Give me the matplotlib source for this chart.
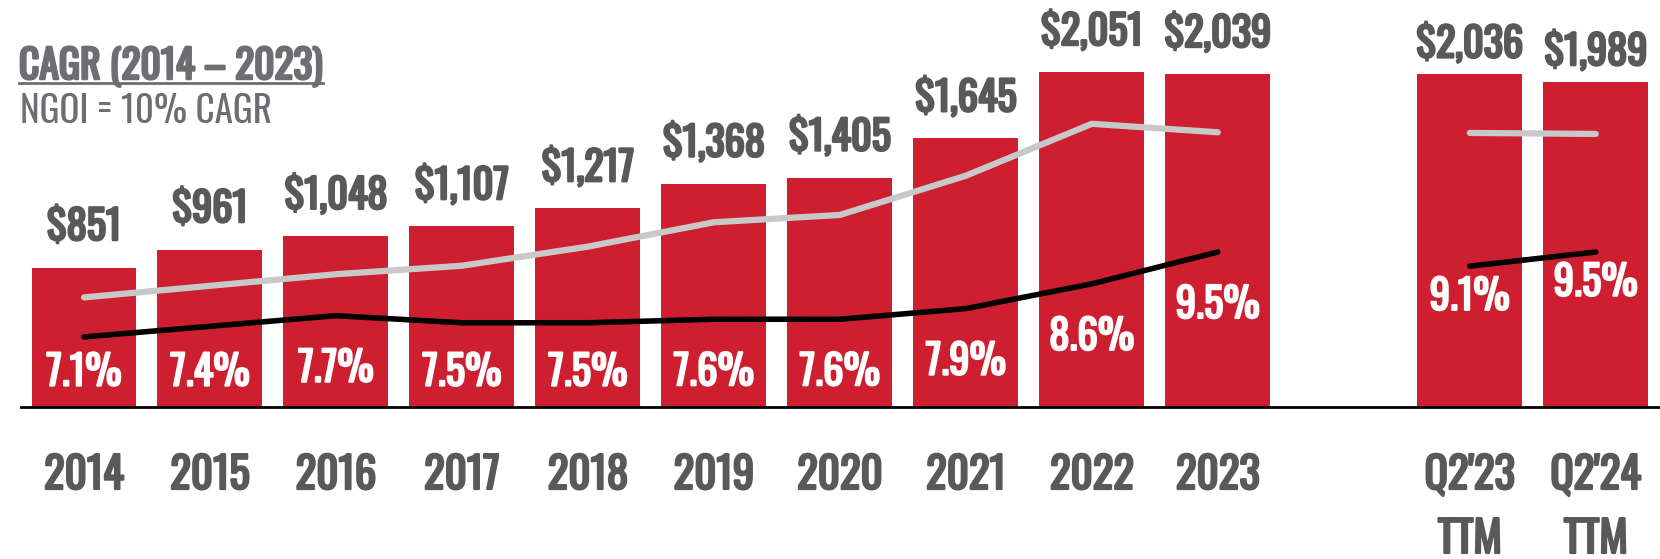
import matplotlib.pyplot as plt
import matplotlib.patheffects as pe
from matplotlib.lines import Line2D

# Oswald is only the variable (regular) cut here, so "bold" is faked with a stroke
plt.rcParams['font.family'] = ['Oswald', 'Barlow Condensed', 'DejaVu Sans']

categories = ['2014', '2015', '2016', '2017', '2018', '2019', '2020', '2021', '2022', '2023',
              "Q2'23\nTTM", "Q2'24\nTTM"]
ngoi = [851, 961, 1048, 1107, 1217, 1368, 1405, 1645, 2051, 2039, 2036, 1989]
margin = [7.1, 7.4, 7.7, 7.5, 7.5, 7.6, 7.6, 7.9, 8.6, 9.5, 9.1, 9.5]
# unlabeled grey trend line in bar units
trend = [671, 742, 813, 865, 982, 1131, 1176, 1416, 1734, 1682, 1678, 1672]

xpos = list(range(10)) + [11, 12]
n_annual = 10

RED = '#CD1F30'
DARK = '#58595B'
TITLE_GRAY = '#6D6E71'


def bold(color, w=1.6):
    return [pe.withStroke(linewidth=w, foreground=color)]


W, H = 1660, 559
fig = plt.figure(figsize=(W / 100, H / 100), dpi=100)
base_px = 407
ax = fig.add_axes([21 / W, (H - base_px) / H, 1 - 21 / W, base_px / H])
ax.set_xlim(-0.5, 12.51)
ax.set_ylim(0, 2492)

ax.bar(xpos, ngoi, width=0.833, color=RED, zorder=2)

# grey line in two pieces (gap before TTM)
ax.plot(xpos[:n_annual], trend[:n_annual], color='#C8C8C8', lw=4.5, solid_capstyle='round', zorder=3)
ax.plot(xpos[n_annual:], trend[n_annual:], color='#C8C8C8', lw=4.5, solid_capstyle='round', zorder=3)

ax2 = ax.twinx()
ax2.set_ylim(5.12, 16.62)
ax2.plot(xpos[:n_annual], margin[:n_annual], color='black', lw=4, solid_capstyle='round', zorder=3)
ax2.plot(xpos[n_annual:], margin[n_annual:], color='black', lw=4, solid_capstyle='round', zorder=3)

for a in (ax, ax2):
    for s in a.spines.values():
        s.set_visible(False)
    a.set_xticks([])
    a.set_yticks([])
ax.spines['bottom'].set_visible(True)
ax.spines['bottom'].set_linewidth(2)
ax.spines['bottom'].set_color('black')
ax.spines['bottom'].set_zorder(5)

for i, (x, v, m, cat) in enumerate(zip(xpos, ngoi, margin, categories)):
    ttm = i >= n_annual
    # value above bar
    ax.annotate(f'${v:,}', (x, v), xytext=(0, (31 if ttm else 41) * 0.72), textcoords='offset points',
                ha='center', va='center', fontsize=29, color=DARK, path_effects=bold(DARK, 1.8))
    # margin label below black line
    ym = max(m - (0.87 if ttm else 1.5), 6.09)
    ax2.text(x, ym, f'{m}%', ha='center', va='center', fontsize=29.5,
             color='white', zorder=6, path_effects=bold('white', 1.4))
    # category labels
    for j, line in enumerate(cat.split('\n')):
        ax.annotate(line, (x, 0), xytext=(0, -(68.5 + 64 * j) * 0.72), textcoords='offset points',
                    ha='center', va='center', fontsize=31, color=DARK,
                    annotation_clip=False, path_effects=bold(DARK))

t = fig.text(19 / W, 1 - 79 / H, 'CAGR (2014 – 2023)', fontsize=28.5,
             color=TITLE_GRAY, va='baseline', ha='left', path_effects=bold(TITLE_GRAY, 1.8))
fig.text(20 / W, 1 - 123 / H, 'NGOI = 10% CAGR', fontsize=26.7, color=TITLE_GRAY,
         va='baseline', ha='left')

fig.canvas.draw()
bb = t.get_window_extent()
uy = 1 - 83 / H
fig.add_artist(Line2D([bb.x0 / W, bb.x1 / W], [uy, uy], color=TITLE_GRAY, lw=2,
                      transform=fig.transFigure))

fig.savefig('out.png', dpi=100)
